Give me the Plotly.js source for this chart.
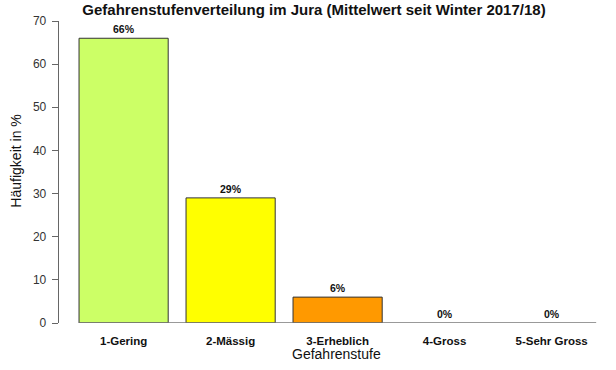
<!DOCTYPE html>
<html>
<head>
<meta charset="utf-8">
<script src="https://cdn.plot.ly/plotly-3.0.1.min.js"></script>
<style>html,body{margin:0;padding:0;background:#fff;}#chart{width:616px;height:370px;}</style>
</head>
<body>
<div id="chart"></div>
<script>
const categories = ["1-Gering", "2-Mässig", "3-Erheblich", "4-Gross", "5-Sehr Gross"];
const values = [66, 29, 6, 0, 0];
const valueLabels = ["66%", "29%", "6%", "0%", "0%"];
const barColors = ["#CCFF66", "#FFFF00", "#FF9900", "#FF0000", "#990099"];
const yTicks = [0, 10, 20, 30, 40, 50, 60, 70];

const FONT = "Liberation Sans, Arial, sans-serif";
const barWidth = 1 / 1.2;
const idx = categories.map((c, i) => i);

const trace = {
  type: "bar",
  x: idx,
  y: values,
  width: barWidth,
  marker: {
    color: barColors,
    line: { color: values.map(v => v > 0 ? "#333333" : "rgba(0,0,0,0)"), width: 1 }
  },
  hoverinfo: "skip"
};

const annotations = idx.map(i => ({
  x: i, y: values[i], xref: "x", yref: "y",
  text: valueLabels[i], showarrow: false,
  xanchor: "center", yanchor: "bottom", yshift: 1,
  font: { family: FONT, size: 10.5, weight: "bold", color: "#111" }
}));

annotations.push({
  xref: "paper", yref: "paper", x: 0, y: 0.536, xshift: -42.5,
  text: "Häufigkeit in %", textangle: -90, showarrow: false,
  xanchor: "center", yanchor: "middle",
  font: { family: FONT, size: 14, color: "#111" }
});
annotations.push({
  xref: "paper", yref: "paper", x: 0.499, y: 0, yshift: -31,
  text: "Gefahrenstufe", showarrow: false,
  xanchor: "center", yanchor: "middle",
  font: { family: FONT, size: 14, color: "#111" }
});

const layout = {
  width: 616, height: 370,
  margin: { l: 59, r: 0, t: 21, b: 47 },
  paper_bgcolor: "#fff", plot_bgcolor: "#fff",
  showlegend: false,
  title: {
    text: "Gefahrenstufenverteilung im Jura (Mittelwert seit Winter 2017/18)",
    font: { family: FONT, size: 15, weight: "bold", color: "#111" },
    x: 314 / 616, xanchor: "center", xref: "container",
    y: 1 - 10 / 370, yanchor: "middle", yref: "container"
  },
  xaxis: {
    range: [-0.604, 4.602],
    tickmode: "array", tickvals: idx, ticktext: categories,
    ticks: "", showline: false, showgrid: false, zeroline: false,
    ticklabelstandoff: 9,
    tickfont: { family: FONT, size: 11.5, weight: "bold", color: "#111" },
    fixedrange: true
  },
  yaxis: {
    range: [0, 70],
    tickmode: "array", tickvals: yTicks, ticktext: yTicks.map(String),
    ticks: "outside", ticklen: 6, tickwidth: 1, tickcolor: "#666",
    showline: true, linecolor: "#666", linewidth: 1.3,
    showgrid: false, zeroline: false,
    ticklabelstandoff: 3,
    tickfont: { family: FONT, size: 12, color: "#333" },
    fixedrange: true
  },
  shapes: [{
    type: "line", xref: "x", yref: "y",
    x0: idx[0] - barWidth / 2, x1: idx[idx.length - 1] + barWidth / 2,
    y0: 0, y1: 0,
    line: { color: "#777", width: 1.6 }
  }],
  annotations: annotations
};

Plotly.newPlot("chart", [trace], layout, { displayModeBar: false, staticPlot: true });
</script>
</body>
</html>
